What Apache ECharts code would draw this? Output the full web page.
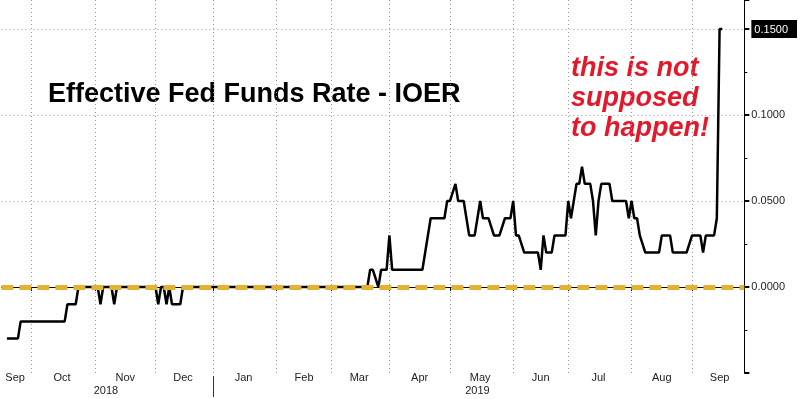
<!DOCTYPE html>
<html>
<head>
<meta charset="utf-8">
<title>Effective Fed Funds Rate - IOER</title>
<script src="https://cdn.jsdelivr.net/npm/echarts@6/dist/echarts.min.js"></script>
<style>
  html, body { margin: 0; padding: 0; background: #fff; }
  #chart { width: 800px; height: 399px; }
</style>
</head>
<body>
<div id="chart"></div>
<script>
// x axis runs over weekdays only
const startDate = '2018-09-14'
const endDate = '2019-09-27'
const monthNames = ['Jan', 'Feb', 'Mar', 'Apr', 'May', 'Jun', 'Jul', 'Aug', 'Sep', 'Oct', 'Nov', 'Dec']

// EFFR minus IOER, read at the days where the line turns
const spreadDates = [
  '2018-09-18', '2018-09-24', '2018-09-25', '2018-10-17', '2018-10-18', '2018-10-23', '2018-10-24',
  '2018-11-02', '2018-11-05', '2018-11-06', '2018-11-09', '2018-11-12', '2018-11-13',
  '2018-12-03', '2018-12-04', '2018-12-05', '2018-12-06', '2018-12-07', '2018-12-10', '2018-12-11',
  '2018-12-14', '2018-12-17',
  '2019-03-20', '2019-03-21', '2019-03-22', '2019-03-26', '2019-03-27', '2019-03-29',
  '2019-04-01', '2019-04-02', '2019-04-17', '2019-04-22', '2019-04-29', '2019-04-30',
  '2019-05-01', '2019-05-03', '2019-05-06', '2019-05-08', '2019-05-10', '2019-05-14', '2019-05-16',
  '2019-05-17', '2019-05-21', '2019-05-23', '2019-05-27', '2019-05-29', '2019-05-31',
  '2019-06-03', '2019-06-04', '2019-06-05', '2019-06-07', '2019-06-14', '2019-06-17', '2019-06-18',
  '2019-06-19', '2019-06-21', '2019-06-24', '2019-06-28',
  '2019-07-01', '2019-07-02', '2019-07-04', '2019-07-05', '2019-07-08', '2019-07-09', '2019-07-11',
  '2019-07-12', '2019-07-15', '2019-07-16', '2019-07-17', '2019-07-22', '2019-07-23', '2019-07-30',
  '2019-07-31', '2019-08-01', '2019-08-02', '2019-08-05', '2019-08-06', '2019-08-08', '2019-08-15',
  '2019-08-16', '2019-08-21', '2019-08-22', '2019-08-29',
  '2019-09-02', '2019-09-05', '2019-09-06', '2019-09-09', '2019-09-12', '2019-09-13', '2019-09-16',
  '2019-09-17'
]
const spreadValues = [
  -0.03, -0.03, -0.02, -0.02, -0.01, -0.01, 0,
  0, -0.01, 0, 0, -0.01, 0,
  0, -0.01, 0, 0, -0.01, 0, -0.01,
  -0.01, 0,
  0, 0.01, 0.01, 0, 0.01, 0.01,
  0.03, 0.01, 0.01, 0.04, 0.04, 0.05,
  0.05, 0.06, 0.05, 0.05, 0.03, 0.03, 0.05,
  0.04, 0.04, 0.03, 0.03, 0.04, 0.04,
  0.05, 0.03, 0.03, 0.02, 0.02, 0.01, 0.03,
  0.02, 0.02, 0.03, 0.03,
  0.05, 0.04, 0.06, 0.06, 0.07, 0.06, 0.06,
  0.05, 0.03, 0.05, 0.06, 0.06, 0.05, 0.05,
  0.04, 0.05, 0.04, 0.04, 0.03, 0.02, 0.02,
  0.03, 0.03, 0.02, 0.02,
  0.03, 0.03, 0.02, 0.03, 0.03, 0.04, 0.15,
  0.15
]

const gridValues = [0.05, 0.1, 0.15]
const zeroValue = 0
const highlightValue = 0.15
const yMin = -0.05
const yMax = 0.1669
const titleText = 'Effective Fed Funds Rate - IOER'
const noteText = ['this is not', 'supposed', 'to happen!']

const fontFamily = '"Liberation Sans", Arial, sans-serif'

function weekdays (from, to) {
  const out = []
  const d = new Date(from + 'T00:00:00Z')
  const end = new Date(to + 'T00:00:00Z')
  while (d <= end) {
    const wd = d.getUTCDay()
    if (wd !== 0 && wd !== 6) out.push(d.toISOString().slice(0, 10))
    d.setUTCDate(d.getUTCDate() + 1)
  }
  return out
}

const days = weekdays(startDate, endDate)

// first / middle index of each month and year
function groupMarks (keyLen) {
  const starts = new Set()
  const mids = new Set()
  let first = 0
  for (let i = 1; i <= days.length; i++) {
    if (i === days.length || days[i].slice(0, keyLen) !== days[i - 1].slice(0, keyLen)) {
      mids.add(keyLen === 4 ? Math.floor((first + i - 1) / 2) : Math.round((first + i - 1) / 2))
      if (i < days.length) starts.add(i)
      first = i
    }
  }
  return { starts, mids }
}
const months = groupMarks(7)
const years = groupMarks(4)

const chart = echarts.init(document.getElementById('chart'))
chart.setOption({
  animation: false,
  backgroundColor: '#fff',
  grid: { left: 1.4, right: 54.4, top: 0, bottom: 26 },
  xAxis: [
    {
      type: 'category',
      data: days,
      boundaryGap: false,
      position: 'bottom',
      offset: -4,
      axisLine: { lineStyle: { color: '#000', width: 1 } },
      axisTick: { interval: i => months.starts.has(i), length: 4, lineStyle: { color: '#000' } },
      axisLabel: {
        interval: i => months.mids.has(i),
        formatter: v => monthNames[+v.slice(5, 7) - 1],
        margin: 3,
        fontSize: 11,
        color: '#222',
        fontFamily
      },
      splitLine: {
        show: true,
        interval: i => months.starts.has(i),
        lineStyle: { color: '#999', width: 1, type: [1, 3] }
      }
    },
    {
      type: 'category',
      data: days,
      boundaryGap: false,
      position: 'bottom',
      offset: 3,
      axisLine: { show: false },
      axisTick: { interval: i => years.starts.has(i), length: 21, lineStyle: { color: '#333' } },
      axisLabel: {
        interval: i => years.mids.has(i),
        formatter: v => v.slice(0, 4),
        margin: 9,
        fontSize: 11,
        color: '#222',
        fontFamily
      },
      splitLine: { show: false }
    }
  ],
  yAxis: {
    type: 'value',
    position: 'right',
    min: yMin,
    max: yMax,
    interval: 0.05,
    splitLine: { show: false },
    axisLine: { show: true, lineStyle: { color: '#000', width: 1 } },
    axisTick: { show: true, length: 5, lineStyle: { color: '#000', width: 2 } },
    minorTick: { show: true, splitNumber: 2, length: 3, lineStyle: { color: '#000' } },
    axisLabel: {
      margin: 5,
      padding: [0, 0, 0, 2],
      fontSize: 11,
      color: '#222',
      fontFamily,
      showMaxLabel: false,
      formatter: v => {
        if (v < -0.001 || v > 0.151) return ''
        const s = v.toFixed(4)
        return Math.abs(v - highlightValue) < 1e-9 ? '{hl|' + s + '}' : s
      },
      rich: {
        hl: { color: '#fff', backgroundColor: '#000', padding: [4, 9, 3, 3], fontSize: 11, fontFamily }
      }
    }
  },
  graphic: [
    {
      type: 'text',
      left: 48,
      top: 81,
      style: { text: titleText, font: 'bold 27px ' + fontFamily, fill: '#000' }
    },
    {
      type: 'text',
      left: 571,
      top: 54,
      style: { text: noteText.join('\n'), font: 'italic bold 27px ' + fontFamily, fill: '#e3192b', lineHeight: 30 }
    }
  ],
  series: [
    {
      name: 'grid',
      type: 'line',
      data: [],
      silent: true,
      markLine: {
        z: 1,
        silent: true,
        symbol: 'none',
        label: { show: false },
        lineStyle: { color: '#999', width: 1, type: [1, 3] },
        data: gridValues.map(v => ({ yAxis: v }))
      }
    },
    {
      name: 'EFFR - IOER',
      type: 'line',
      z: 2,
      showSymbol: false,
      data: spreadDates.map((d, i) => [d, spreadValues[i]]),
      lineStyle: { color: '#000', width: 2.5 },
      markLine: {
        z: 5,
        silent: true,
        symbol: 'none',
        label: { show: false },
        lineStyle: { color: '#e4b133', width: 5, type: [12, 6] },
        data: [{ yAxis: zeroValue }]
      }
    }
  ]
})
</script>
</body>
</html>
